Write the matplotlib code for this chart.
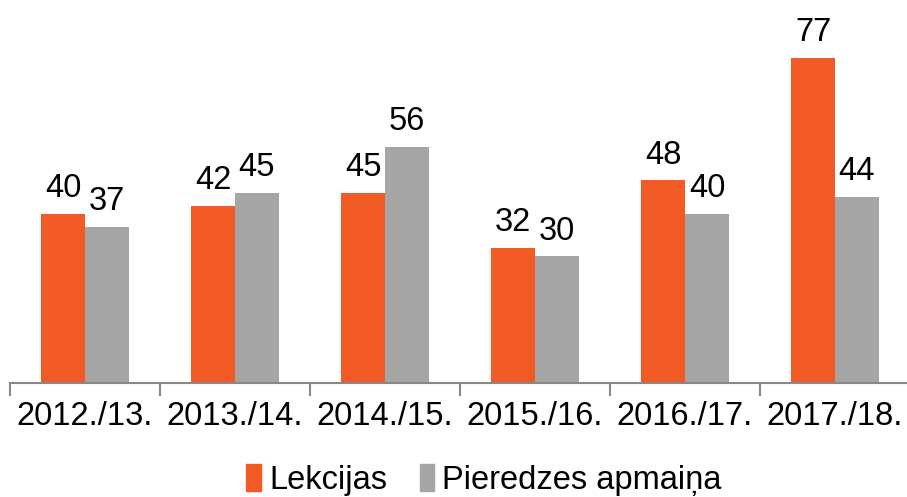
import matplotlib
matplotlib.use("Agg")
import matplotlib.pyplot as plt
import numpy as np
from matplotlib.patches import Patch

categories = ["2012./13.", "2013./14.", "2014./15.", "2015./16.", "2016./17.", "2017./18."]
lekcijas = [40, 42, 45, 32, 48, 77]
pieredze = [37, 45, 56, 30, 40, 44]
series_names = ["Lekcijas", "Pieredzes apmaiņa"]

orange = "#F15A24"
gray = "#A5A5A5"

plt.rcParams['font.family'] = ['Liberation Sans', 'DejaVu Sans']
FS = 23.5

fig = plt.figure(figsize=(9.07, 4.97), dpi=100)
ax = fig.add_axes([10/907, (497-383)/497, 900/907, 380/497])

x = np.arange(len(categories))
w = 0.293
b1 = ax.bar(x - w/2, lekcijas, w, color=orange)
b2 = ax.bar(x + w/2, pieredze, w, color=gray)

for bars, vals in ((b1, lekcijas), (b2, pieredze)):
    for r, v in zip(bars, vals):
        ax.annotate(str(v), (r.get_x() + r.get_width()/2, r.get_height()),
                    xytext=(0, 7), textcoords="offset points",
                    ha="center", va="bottom", fontsize=FS)

ax.set_xlim(-0.5, len(categories) - 0.5)
ax.set_ylim(0, 90)
ax.set_yticks([])
for s in ("top", "right", "left"):
    ax.spines[s].set_visible(False)
ax.spines["bottom"].set_color("#888888")
ax.spines["bottom"].set_linewidth(1.5)

ax.set_xticks(x)
ax.set_xticklabels(categories, fontsize=FS)
ax.tick_params(axis="x", which="major", length=0, pad=13)
ax.set_xticks(np.arange(len(categories) + 1) - 0.5, minor=True)
ax.tick_params(axis="x", which="minor", length=9, width=1.5, color="#888888")

handles = [Patch(color=orange), Patch(color=gray)]
fig.legend(handles, series_names, loc="center", bbox_to_anchor=(484/907, 1 - 480/497),
           ncol=2, frameon=False, fontsize=FS, handlelength=0.45, handleheight=0.9,
           handletextpad=0.25, columnspacing=1.0, borderpad=0.2)

fig.savefig("out.png", dpi=100)
